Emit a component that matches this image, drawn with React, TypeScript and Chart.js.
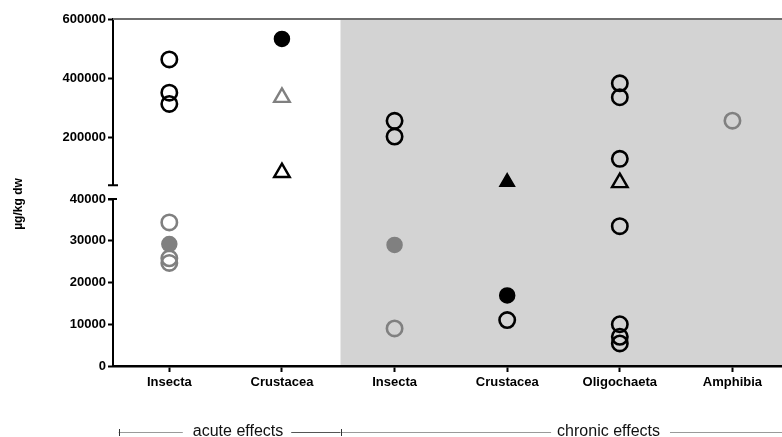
import React, { useEffect, useRef } from 'react';
import { Chart, registerables } from 'chart.js';

Chart.register(...registerables);

const categories = ['Insecta', 'Crustacea', 'Insecta', 'Crustacea', 'Oligochaeta', 'Amphibia'];
const upperTicks = [200000, 400000, 600000];
const lowerTicks = [0, 10000, 20000, 30000, 40000];
const breakValue = 40000;
const upperMax = 600000;
const groupLabels = ['acute effects', 'chronic effects'];
const yTitle = 'µg/kg dw';

// [category index, value in µg/kg dw]
const blackOpenCircles: [number, number][] = [
  [0, 464000], [0, 352000], [0, 314000],
  [2, 257000], [2, 204000],
  [3, 11000],
  [4, 383500], [4, 336500], [4, 129000], [4, 33500], [4, 10000], [4, 7000], [4, 5400],
];
const grayOpenCircles: [number, number][] = [
  [0, 34400], [0, 25800], [0, 24700],
  [2, 9000],
  [5, 257500],
];
const grayFilledCircles: [number, number][] = [[0, 29200], [2, 29000]];
const blackFilledCircles: [number, number][] = [[1, 533000], [3, 16900]];
const blackOpenTriangles: [number, number][] = [[1, 83000], [4, 49000]];
const grayOpenTriangles: [number, number][] = [[1, 336000]];
const blackFilledTriangles: [number, number][] = [[3, 51000]];

const FONT = "'Liberation Sans', Arial, sans-serif";
const GRAY = '#808080';
const SHADE = '#d3d3d3';
const SHADE_START = 1.52;

type Def = { data: [number, number][]; style: string; color: string; filled: boolean };
const seriesDefs: Def[] = [
  { data: blackOpenCircles, style: 'circle', color: '#000', filled: false },
  { data: grayOpenCircles, style: 'circle', color: GRAY, filled: false },
  { data: grayFilledCircles, style: 'circle', color: GRAY, filled: true },
  { data: blackFilledCircles, style: 'circle', color: '#000', filled: true },
  { data: blackOpenTriangles, style: 'triangle', color: '#000', filled: false },
  { data: grayOpenTriangles, style: 'triangle', color: GRAY, filled: false },
  { data: blackFilledTriangles, style: 'triangle', color: '#000', filled: true },
];

function buildDatasets() {
  const out: any[] = [];
  for (const d of seriesDefs) {
    for (const axis of ['yTop', 'yBot']) {
      const pts = d.data
        .filter(([, v]) => (axis === 'yTop' ? v >= breakValue : v < breakValue))
        .map(([c, v]) => ({ x: c, y: v }));
      if (!pts.length) continue;
      const isTri = d.style === 'triangle';
      const r = isTri ? (d.filled ? 8.5 : 9) : d.filled ? 7.5 : 7.7;
      const bw = d.filled ? 1.5 : isTri ? 2.4 : 2.6;
      out.push({
        type: 'scatter',
        data: pts,
        yAxisID: axis,
        showLine: false,
        pointStyle: d.style,
        pointRadius: r,
        pointHoverRadius: r,
        pointBorderWidth: bw,
        pointHoverBorderWidth: bw,
        pointBorderColor: d.color,
        pointBackgroundColor: d.filled ? d.color : 'rgba(0,0,0,0)',
        borderColor: d.color,
        backgroundColor: d.filled ? d.color : 'rgba(0,0,0,0)',
        clip: false,
      });
    }
  }
  return out;
}

const decorPlugin = {
  id: 'decor',
  beforeDraw(chart: any) {
    const { ctx, chartArea, scales } = chart;
    const left = scales.x.getPixelForValue(SHADE_START);
    ctx.save();
    ctx.fillStyle = SHADE;
    ctx.fillRect(left, chartArea.top, chartArea.right - left, chartArea.bottom - chartArea.top);
    ctx.restore();
  },
  afterDraw(chart: any) {
    const { ctx, chartArea, scales } = chart;
    const x = scales.x;
    const yTop = scales.yTop;
    const yBot = scales.yBot;
    const axisX = chartArea.left;
    ctx.save();
    // top frame line
    ctx.strokeStyle = '#6e6e6e';
    ctx.lineWidth = 2;
    ctx.beginPath();
    ctx.moveTo(axisX, chartArea.top);
    ctx.lineTo(chartArea.right, chartArea.top);
    ctx.stroke();
    // break caps
    ctx.strokeStyle = '#000';
    ctx.lineWidth = 2;
    ctx.beginPath();
    ctx.moveTo(axisX - 5, yTop.bottom);
    ctx.lineTo(axisX + 5, yTop.bottom);
    ctx.moveTo(axisX - 5, yBot.top);
    ctx.lineTo(axisX + 4, yBot.top);
    ctx.stroke();
    // y title
    ctx.translate(19, 204);
    ctx.rotate(-Math.PI / 2);
    ctx.font = `bold 12px ${FONT}`;
    ctx.fillStyle = '#000';
    ctx.textAlign = 'center';
    ctx.textBaseline = 'middle';
    ctx.fillText(yTitle, 0, 0);
    ctx.restore();

    // group annotation
    ctx.save();
    const yy = 432;
    ctx.font = `16px ${FONT}`;
    ctx.textBaseline = 'middle';
    ctx.textAlign = 'center';
    ctx.fillStyle = '#111';
    const startX = x.getPixelForValue(-0.45);
    const sepX = x.getPixelForValue(SHADE_START);
    const endX = chart.width;
    const c1 = x.getPixelForValue(0.61);
    const c2 = x.getPixelForValue(3.9);
    const w1 = ctx.measureText(groupLabels[0]).width;
    const w2 = ctx.measureText(groupLabels[1]).width;
    ctx.fillText(groupLabels[0], c1, yy);
    ctx.fillText(groupLabels[1], c2, yy);
    const seg = (a: number, b: number, col: string) => {
      ctx.strokeStyle = col;
      ctx.lineWidth = 1;
      ctx.beginPath();
      ctx.moveTo(a, yy + 0.5);
      ctx.lineTo(b, yy + 0.5);
      ctx.stroke();
    };
    seg(startX, c1 - w1 / 2 - 10, '#9a9a9a');
    seg(c1 + w1 / 2 + 8, sepX, '#555');
    seg(sepX, c2 - w2 / 2 - 6, '#9a9a9a');
    seg(c2 + w2 / 2 + 10, endX, '#9a9a9a');
    ctx.strokeStyle = '#333';
    ctx.beginPath();
    ctx.moveTo(Math.round(startX) + 0.5, yy - 3);
    ctx.lineTo(Math.round(startX) + 0.5, yy + 4);
    ctx.moveTo(Math.round(sepX) + 0.5, yy - 3);
    ctx.lineTo(Math.round(sepX) + 0.5, yy + 4);
    ctx.stroke();
    ctx.restore();
  },
};

export default function App() {
  const ref = useRef<HTMLCanvasElement | null>(null);
  useEffect(() => {
    if (!ref.current) return;
    const tickFont = { family: FONT, size: 13, weight: 'bold' as const };
    const fitY = (s: any) => {
      s.width = 113;
      s.paddingTop = 0;
      s.paddingBottom = 0;
    };
    const yCommon = (extra: any) => ({
      type: 'linear',
      position: 'left',
      stack: 'ys',
      afterFit: fitY,
      grid: {
        drawOnChartArea: false,
        drawTicks: true,
        tickLength: 5,
        tickWidth: 2,
        tickColor: '#000',
      },
      border: { display: true, color: '#000', width: 2 },
      ticks: {
        font: tickFont,
        color: '#000',
        padding: 2,
        callback: (v: any) => String(v),
      },
      ...extra,
    });
    const chart = new Chart(ref.current, {
      type: 'scatter',
      data: { datasets: buildDatasets() },
      plugins: [decorPlugin],
      options: {
        responsive: false,
        animation: false,
        layout: { autoPadding: false, padding: { top: 19, left: 0, right: 0, bottom: 0 } },
        plugins: { legend: { display: false }, tooltip: { enabled: false } },
        events: [],
        scales: {
          yBot: yCommon({
            stackWeight: 167,
            min: 0,
            max: breakValue,
            afterBuildTicks: (s: any) => {
              s.ticks = lowerTicks.map((v) => ({ value: v }));
            },
          }),
          yGap: {
            type: 'linear',
            position: 'left',
            stack: 'ys',
            stackWeight: 13.7,
            min: 0,
            max: 1,
            afterFit: fitY,
            grid: { display: false, drawOnChartArea: false },
            border: { display: false },
            ticks: { display: false },
          },
          yTop: yCommon({
            stackWeight: 166.3,
            min: breakValue,
            max: upperMax,
            afterBuildTicks: (s: any) => {
              s.ticks = upperTicks.map((v) => ({ value: v }));
            },
          }),
          x: {
            type: 'linear',
            position: 'bottom',
            min: -0.5,
            max: 5.44,
            afterFit: (s: any) => {
              s.height = 71;
              s.paddingLeft = 0;
              s.paddingRight = 0;
            },
            afterBuildTicks: (s: any) => {
              s.ticks = categories.map((_, i) => ({ value: i }));
            },
            grid: {
              drawOnChartArea: false,
              drawTicks: true,
              tickLength: 6,
              tickWidth: 2,
              tickColor: '#000',
            },
            border: { display: true, color: '#000', width: 2.5 },
            ticks: {
              font: tickFont,
              color: '#000',
              padding: 3,
              maxRotation: 0,
              autoSkip: false,
              callback: (v: any) => categories[Math.round(Number(v))] ?? '',
            },
          },
        },
      } as any,
    });
    return () => chart.destroy();
  }, []);
  return (
    <canvas
      ref={ref}
      width={782}
      height={437}
      style={{ position: 'absolute', left: 0, top: 0, width: 782, height: 437, display: 'block' }}
    />
  );
}
